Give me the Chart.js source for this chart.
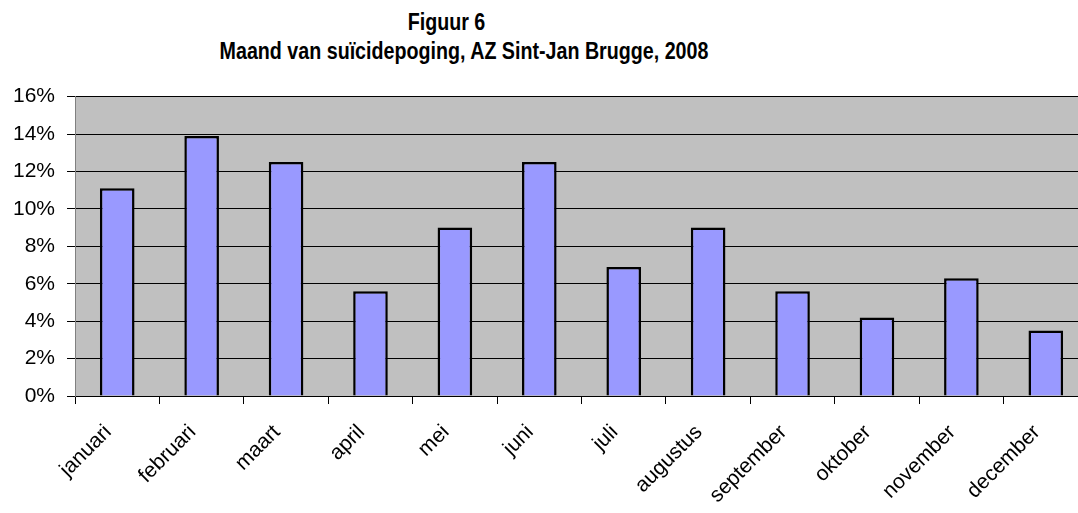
<!DOCTYPE html>
<html>
<head>
<meta charset="utf-8">
<script src="https://cdn.jsdelivr.net/npm/chart.js@4/dist/chart.umd.min.js"></script>
<style>
  html, body { margin: 0; padding: 0; background: #fff; overflow: hidden; }
  .title {
    position: absolute; left: 0; text-align: center; white-space: nowrap;
    font: bold 23px "Liberation Sans", Arial, sans-serif; line-height: 23px; color: #000;
    transform: scaleX(0.855);
  }
  #t1 { top: 11px; width: 893px; }
  #t2 { top: 40px; width: 928px; }
  #wrap { position: absolute; left: 0; top: 72px; width: 1092px; height: 452px; }
</style>
</head>
<body>
<div class="title" id="t1">Figuur 6</div>
<div class="title" id="t2">Maand van suïcidepoging, AZ Sint-Jan Brugge, 2008</div>
<div id="wrap"><canvas id="myChart"></canvas></div>
<script>
// categories and values (percentages)
const months = ['januari', 'februari', 'maart', 'april', 'mei', 'juni', 'juli', 'augustus', 'september', 'oktober', 'november', 'december'];
const percentages = [11.1, 13.9, 12.5, 5.6, 9.0, 12.5, 6.9, 9.0, 5.6, 4.2, 6.3, 3.5];
const yTicks = [0, 2, 4, 6, 8, 10, 12, 14, 16];

// grey plot background like the old Excel charts
const plotBackground = {
  id: 'plotBackground',
  beforeDraw(chart) {
    const { ctx, chartArea } = chart;
    ctx.save();
    ctx.fillStyle = '#c0c0c0';
    ctx.fillRect(chartArea.left, chartArea.top, chartArea.right - chartArea.left, chartArea.bottom - chartArea.top);
    ctx.restore();
  }
};

const font = '"Liberation Sans", Arial, sans-serif';

const ctx = document.getElementById('myChart').getContext('2d');
new Chart(ctx, {
  type: 'bar',
  data: {
    labels: months,
    datasets: [{
      data: percentages,
      backgroundColor: '#9999ff',
      borderColor: '#000000',
      borderWidth: 2.5,
      barPercentage: 0.41,
      categoryPercentage: 1
    }]
  },
  options: {
    responsive: true,
    maintainAspectRatio: false,
    animation: false,
    layout: { padding: { left: 1, right: 4, top: 0, bottom: 0 } },
    plugins: {
      legend: { display: false },
      tooltip: { enabled: false }
    },
    scales: {
      x: {
        offset: true,
        grid: { offset: true, drawOnChartArea: false, drawTicks: true, tickLength: 8, color: '#000' },
        border: { color: '#000', width: 1 },
        ticks: {
          maxRotation: 45, minRotation: 45, padding: 16, labelOffset: -9,
          color: '#000',
          font: { family: font, size: 21 }
        }
      },
      y: {
        min: 0, max: 16,
        afterBuildTicks(axis) { axis.ticks = yTicks.map(v => ({ value: v })); },
        grid: { color: '#000', tickLength: 8 },
        border: { color: '#808080', width: 1 },
        ticks: {
          padding: 12,
          color: '#000',
          font: { family: font, size: 21 },
          callback: v => v + '%'
        }
      }
    }
  },
  plugins: [plotBackground]
});
</script>
</body>
</html>
